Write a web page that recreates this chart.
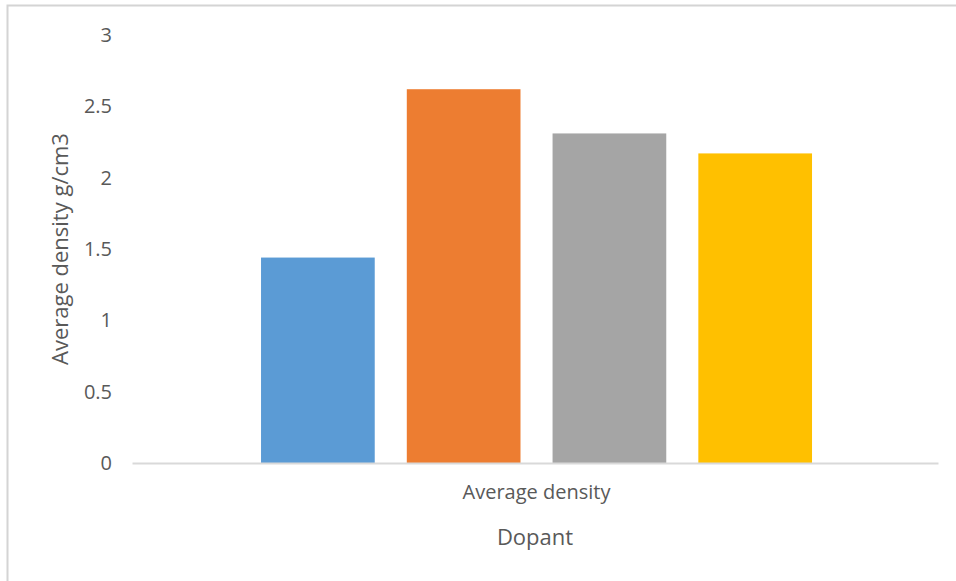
<!DOCTYPE html>
<html>
<head>
<meta charset="utf-8">
<script src="https://cdn.jsdelivr.net/npm/d3@7"></script>
<style>
  body { margin: 0; background: #fff; }
  text { font-family: "Open Sans", sans-serif; fill: #595959; }
</style>
</head>
<body>
<div id="chartArea"></div>
<script>
const categories = ["Average density"];
const series = ["S1", "S2", "S3", "S4"];
const values = [1.44, 2.62, 2.31, 2.17];
const colors = ["#5B9BD5", "#ED7D31", "#A5A5A5", "#FFC000"];
const yTicks = [0, 0.5, 1, 1.5, 2, 2.5, 3];

(function() {
  const W = 956, H = 581;
  const margin = { top: 35, right: 18, bottom: 118, left: 132 };
  const w = W - margin.left - margin.right;
  const h = H - margin.top - margin.bottom;

  const root = d3
    .select("#chartArea")
    .append("svg")
    .attr("width", W)
    .attr("height", H);

  // chart frame (only top and left edges show)
  root
    .append("rect")
    .attr("x", 7.5)
    .attr("y", 5.5)
    .attr("width", W + 20)
    .attr("height", H + 20)
    .attr("fill", "none")
    .attr("stroke", "#d4d4d4")
    .attr("stroke-width", 2);

  const svg = root
    .append("g")
    .attr("transform", "translate(" + margin.left + "," + margin.top + ")");

  const xScale = d3
    .scaleBand()
    .domain(categories)
    .range([0, w])
    .paddingOuter(0.2314)
    .align(0.506);

  const xInner = d3
    .scaleBand()
    .domain(series)
    .range([0, xScale.bandwidth()])
    .paddingInner(0.22);

  const yScale = d3
    .scaleLinear()
    .domain([0, 3])
    .range([h, 0]);

  const yAxis = d3
    .axisLeft(yScale)
    .tickValues(yTicks)
    .tickFormat(d3.format("~g"))
    .tickSize(0)
    .tickPadding(20);

  const gy = svg.append("g").attr("class", "y axis").call(yAxis);
  gy.select(".domain").remove();
  gy.selectAll("text").style("font-size", "20px").attr("fill", "#595959");

  // bars
  svg
    .append("g")
    .selectAll("rect")
    .data(values)
    .enter()
    .append("rect")
    .attr("x", (d, i) => xScale(categories[0]) + xInner(series[i]))
    .attr("y", d => yScale(d))
    .attr("width", xInner.bandwidth())
    .attr("height", d => h - yScale(d))
    .attr("fill", (d, i) => colors[i]);

  const xAxis = d3
    .axisBottom(xScale)
    .tickSize(0)
    .tickPadding(22)
    .tickSizeOuter(0);

  const gx = svg
    .append("g")
    .attr("class", "x axis")
    .attr("transform", "translate(0," + h + ")")
    .call(xAxis);
  gx.select(".domain").attr("stroke", "#d9d9d9").attr("stroke-width", 2);
  gx.selectAll("text").style("font-size", "20px").attr("fill", "#595959");

  // axis titles
  svg
    .append("text")
    .attr("x", w / 2)
    .attr("y", h + 82)
    .attr("text-anchor", "middle")
    .style("font-size", "22px")
    .text("Dopant");

  svg
    .append("text")
    .attr("transform", "translate(" + (60 - margin.left) + "," + h / 2 + ") rotate(-90)")
    .attr("text-anchor", "middle")
    .attr("dy", "0.35em")
    .style("font-size", "22px")
    .text("Average density g/cm3");
})();
</script>
</body>
</html>
